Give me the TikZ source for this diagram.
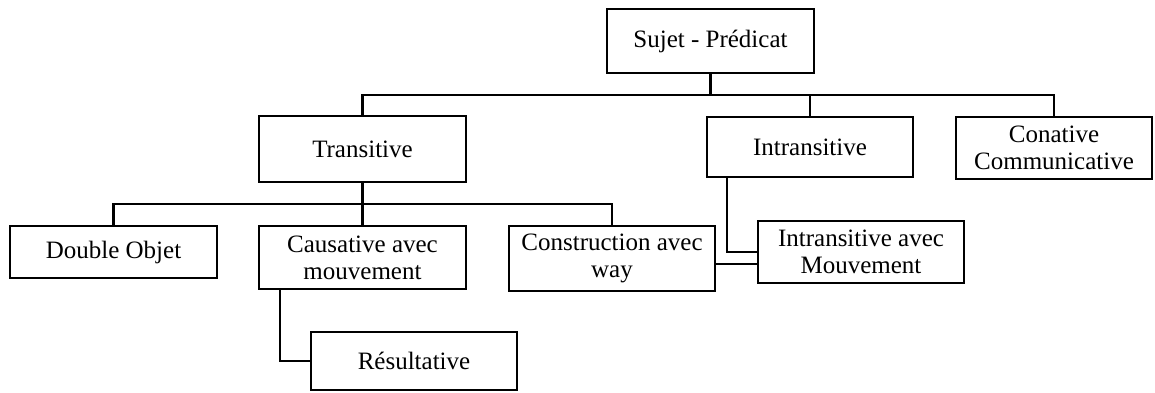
\documentclass[tikz,border=0pt]{standalone}
\usepackage{fontspec}
\setmainfont{Liberation Serif}
\usepackage{tikz}
\usetikzlibrary{calc}

\tikzset{
    cadre/.style={draw, line width=2.4pt, align=center, inner sep=2pt,
        minimum width=207pt, font=\fontsize{25}{27}\selectfont},
    lien/.style={line width=2.1pt}
}

\begin{document}
\begin{tikzpicture}[x=1pt,y=-1pt]
                \useasboundingbox (0,0) rectangle (1155,392);
                \node[cadre, minimum height=64pt] (sujet) at (710.5,41){Sujet - Prédicat};
                \node[cadre, minimum height=66pt] (trans) at (362.5,149){Transitive};
                \node[cadre, minimum height=60pt, minimum width=206pt] (intrans) at (810,147){Intransitive};
                \node[cadre, minimum height=62pt, minimum width=196pt] (conat) at (1054,148){Conative\\Communicative};
                \node[cadre, minimum height=52pt] (double) at (113.5,252){Double Objet};
                \node[cadre, minimum height=63pt] (causat) at (362.5,257.5){Causative avec\\mouvement};
                \node[cadre, minimum height=65pt, minimum width=206pt] (constr) at (612,258.5){Construction avec\\way};
                \node[cadre, minimum height=62pt, minimum width=206pt] (intransmv) at (861,252){Intransitive avec\\Mouvement};
                \node[cadre, minimum height=58pt, minimum width=206pt] (result) at (414,361){Résultative};
                \coordinate (bus1) at (0,95);
                \coordinate (bus2) at (0,204);
                % premier niveau
                \draw[lien](sujet.south)--(sujet.south |- bus1);
                \draw[lien](trans.north)|-(bus1 -| conat.north)--(conat.north);
                \draw[lien](intrans.north)--(intrans.north |- bus1);
                % second niveau
                \draw[lien](trans.south)--(causat.north);
                \draw[lien](double.north)|-(bus2 -| constr.north)--(constr.north);
                \draw[lien]([xshift=21pt]intrans.south west)|-(intransmv.west);
                \draw[lien]([yshift=-5.5pt]constr.east)--([yshift=-5.5pt]constr.east -| intransmv.west);
                \draw[lien]([xshift=22pt]causat.south west)|-(result.west);
            \end{tikzpicture}
\end{document}
